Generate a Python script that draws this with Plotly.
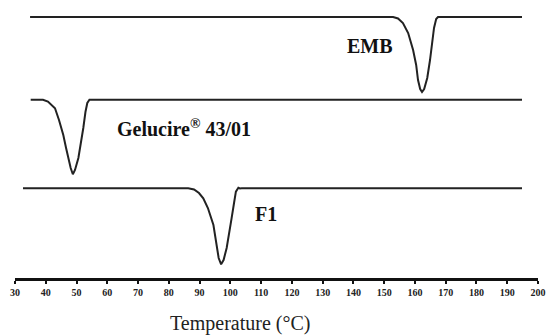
import plotly.graph_objects as go

# Temperature (°C) and heat-flow (relative, arbitrary units)
emb_T = [34.9, 152.9, 154.5, 156.1, 157.8, 159.4, 160.4, 161.0, 161.7, 162.3, 163.0, 164.0, 164.9, 165.6, 166.2, 166.9, 167.5, 194.8]
emb_hf = [0, 0, -1.5, -6, -16, -33, -48, -63, -72, -75, -72, -61, -43, -26, -11, -2, 0, 0]

gel_T = [35.1, 39.1, 40.7, 42.0, 43.0, 44.3, 45.7, 46.6, 47.3, 48.1, 48.8, 49.5, 50.6, 51.5, 52.2, 52.9, 53.5, 54.2, 194.8]
gel_hf = [0, 0, -1.8, -5.3, -8.6, -20.3, -35.3, -48.3, -58.3, -68.3, -74.6, -70.3, -58.3, -43.3, -28.3, -12.3, -3.3, 0, 0]

f1_T = [32.6, 86.3, 88.2, 89.8, 91.2, 92.7, 94.5, 95.6, 96.2, 97.0, 97.8, 98.8, 99.6, 100.4, 101.2, 101.8, 102.6, 103.1, 103.7, 194.8]
f1_hf = [0, 0, -1.2, -4.7, -10, -19.7, -36.7, -59.7, -69.7, -76, -71.7, -59.7, -46.7, -30, -14.7, -3.4, 0.6, -0.2, 0, 0]

series_names = ["EMB", "Gelucire<sup>®</sup> 43/01", "F1"]
series_offsets = [261, 178.3, 89.7]
label_T = [145.3, 84.8, 111.6]
label_hf = [-28.5, -28, -25.7]

tick_vals = list(range(30, 201, 10))
tick_text = [str(v) for v in tick_vals]

fig = go.Figure()
for T, hf, off in [(emb_T, emb_hf, series_offsets[0]),
                   (gel_T, gel_hf, series_offsets[1]),
                   (f1_T, f1_hf, series_offsets[2])]:
    fig.add_trace(go.Scatter(
        x=T, y=[off + v for v in hf], mode="lines",
        line=dict(color="#222222", width=2, shape="linear"),
        showlegend=False, hoverinfo="skip"))

for name, lt, lh, off in zip(series_names, label_T, label_hf, series_offsets):
    fig.add_annotation(x=lt, y=off + lh, text=name, showarrow=False,
                       font=dict(family="Liberation Serif", size=20, color="#111111", weight="bold"),
                       xanchor="center", yanchor="middle")

fig.add_annotation(xref="paper", yref="paper", x=0.43, y=-0.162, text="Temperature (°C)",
                   showarrow=False, xanchor="center", yanchor="middle",
                   font=dict(family="Liberation Serif", size=20, color="#222222"))

fig.update_xaxes(range=[30, 200], tickvals=tick_vals, ticktext=tick_text,
                 showline=True, linewidth=3, linecolor="#111111",
                 ticks="outside", ticklen=3, tickwidth=2, tickcolor="#111111",
                 showgrid=False, zeroline=False,
                 tickfont=dict(family="Liberation Serif", size=10, color="#222222", weight="bold"))
fig.update_yaxes(range=[0, 278], visible=False, showgrid=False, zeroline=False)

fig.update_layout(width=547, height=336, margin=dict(l=15, r=9, t=0, b=58),
                  plot_bgcolor="white", paper_bgcolor="white")

fig.write_html("out.html", config={"displayModeBar": False},
               post_script="document.body.style.margin='0';document.body.style.padding='0';")
